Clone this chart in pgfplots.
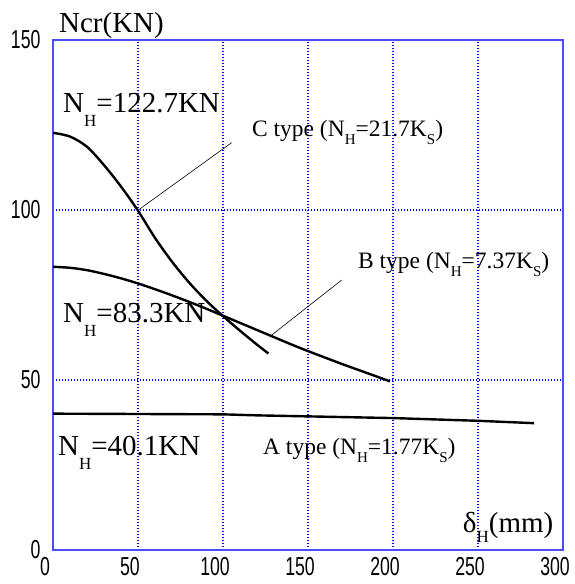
\documentclass[border=0pt]{standalone}
\usepackage{pgfplots}
\pgfplotsset{compat=1.18}
\usepackage{fontspec}
\setmainfont{Liberation Serif}
\newfontfamily\tickfont[FakeStretch=0.68]{Liberation Sans}
\definecolor{axblue}{rgb}{0.3,0.3,1}
\definecolor{grblue}{rgb}{0,0,1}
% subscript lowered under the baseline, as in the original
\newcommand{\bsub}[1]{\raisebox{-14pt}{\fontsize{17}{17}\selectfont #1}}
\newcommand{\ssub}[1]{\raisebox{-8pt}{\fontsize{15}{15}\selectfont #1}}
\begin{document}
\begin{tikzpicture}
\useasboundingbox (-53pt,-34pt) rectangle (521pt,550pt);
\begin{axis}[
    scale only axis,
    width=510pt, height=510pt,
    xmin=0, xmax=300, ymin=0, ymax=150,
    xtick={0,50,...,300}, ytick={0,50,100,150},
    major tick length=0pt,
    grid=major,
    major grid style={grblue, line width=1.1pt, dash pattern=on 1.4pt off 1.6pt},
    axis line style={axblue, line width=1.6pt},
    /pgf/number format/assume math mode=true,
    tick label style={font=\tickfont\fontsize{26}{26}\selectfont, black},
    xticklabel style={yshift=-4pt, xshift=-8pt},
    yticklabel style={xshift=-9pt},
    clip=false,
]
% C type
\addplot[black, line width=2.4pt, smooth] coordinates {
 (0,122.7) (10,121.6) (20,118.6) (30,113.2) (40,106.9) (50,99.8)
 (60,91.8) (70,84.8) (80,78.7) (90,73.4) (100,68.8) (110,64.5)
 (120,60.4) (126.7,57.8)};
% B type
\addplot[black, line width=2.4pt, smooth] coordinates {
 (0,83.3) (10,83.0) (20,82.3) (30,81.2) (40,79.9) (50,78.4) (60,76.7)
 (70,74.9) (80,73.0) (90,71.0) (100,68.9) (110,66.8) (120,64.7)
 (130,62.6) (140,60.5) (150,58.5) (160,56.6) (170,54.7) (180,52.9)
 (190,51.1) (198.2,49.6)};
% A type
\addplot[black, line width=2.4pt] coordinates {
 (0,40.1) (50,40) (100,39.9) (120,39.6) (150,39.3) (200,38.8)
 (250,38.0) (283,37.3)};
% leader lines
\draw[black, line width=0.6pt] (axis cs:50.2,100) -- (axis cs:105.1,119.8);
\draw[black, line width=0.6pt] (axis cs:128.6,63.2) -- (axis cs:169.8,79.4);
% labels
\node[anchor=base west, inner sep=0pt, font=\fontsize{29}{29}\selectfont] at (axis cs:3.5,152.1) {Ncr(KN)};
\node[anchor=base west, inner sep=0pt, font=\fontsize{29}{29}\selectfont] at (axis cs:5.9,128.6) {N\bsub{H}=122.7KN};
\node[anchor=base west, inner sep=0pt, font=\fontsize{29}{29}\selectfont] at (axis cs:5.9,66.8) {N\bsub{H}=83.3KN};
\node[anchor=base west, inner sep=0pt, font=\fontsize{29}{29}\selectfont] at (axis cs:2.9,27.9) {N\bsub{H}=40.1KN};
\node[anchor=base west, inner sep=0pt, font=\fontsize{29}{29}\selectfont] at (axis cs:241,5) {δ\raisebox{-9pt}{\fontsize{17}{17}\selectfont H}(mm)};
\node[anchor=base west, inner sep=0pt, font=\fontsize{23.5}{23.5}\selectfont] at (axis cs:117,121.5) {C type (N\ssub{H}=21.7K\ssub{S})};
\node[anchor=base west, inner sep=0pt, font=\fontsize{23.5}{23.5}\selectfont] at (axis cs:179.4,82.9) {B type (N\ssub{H}=7.37K\ssub{S})};
\node[anchor=base west, inner sep=0pt, font=\fontsize{23.5}{23.5}\selectfont] at (axis cs:123.5,28.2) {A type (N\ssub{H}=1.77K\ssub{S})};
\end{axis}
\end{tikzpicture}
\end{document}
